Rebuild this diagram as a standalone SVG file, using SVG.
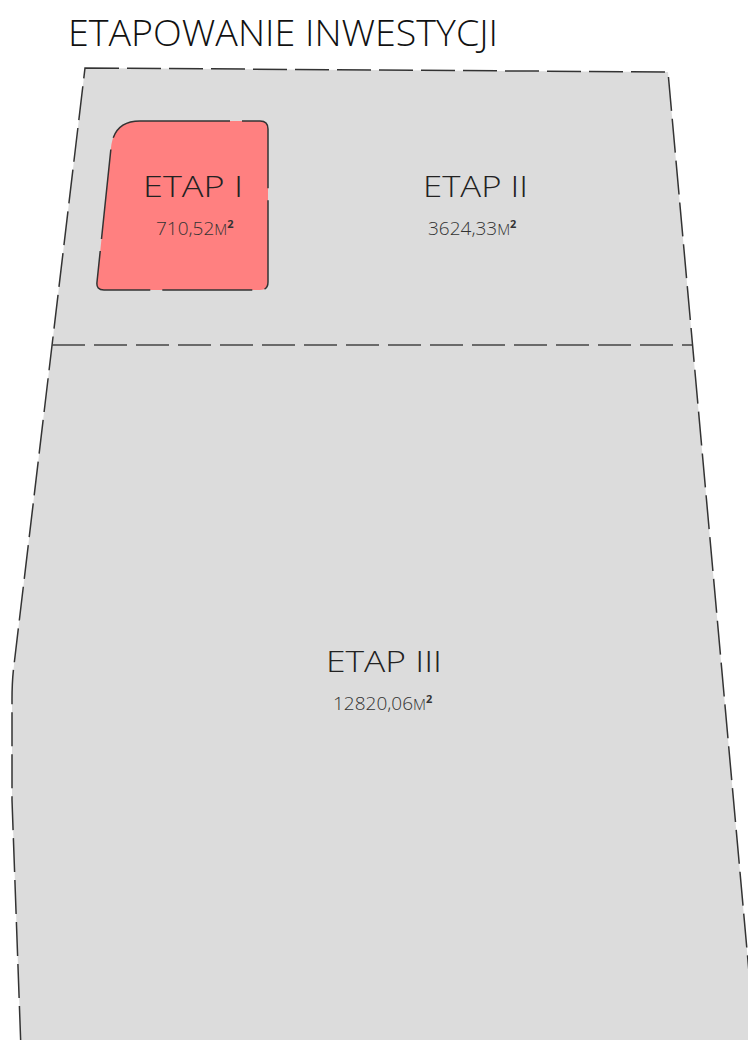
<svg xmlns="http://www.w3.org/2000/svg" width="748" height="1040" viewBox="0 0 748 1040">
<style>
.bg{fill:#ffffff}
.site{fill:#dcdcdc;stroke:#333;stroke-width:1.5;stroke-dasharray:34 8}
.div{fill:none;stroke:#444;stroke-width:1.5;stroke-dasharray:33 9}
.etap1{fill:#ff8080;stroke:#333;stroke-width:1.5;stroke-dasharray:90 12}
.title{font-family:"Open Sans","DejaVu Sans",sans-serif;font-weight:300;font-size:36px;fill:#111}
.lbl{font-family:"Open Sans","DejaVu Sans",sans-serif;font-weight:300;font-size:30px;fill:#222}
.area{font-family:"Open Sans","DejaVu Sans",sans-serif;font-weight:300;font-size:19px;fill:#333}
.m{font-size:15px}
.sq{font-size:11px;font-weight:700}
</style>
<rect class="bg" x="0" y="0" width="748" height="1040"/>
<text class="title" x="68" y="46" textLength="430" lengthAdjust="spacingAndGlyphs">ETAPOWANIE INWESTYCJI</text>
<g id="site">
<path class="site" d="M85,68 L668,72 L756,1050 L21,1050 L12,800 L12,700 Q12,680 14,665 Z"/>
</g>
<g id="connectors">
<line class="div" x1="52" y1="345" x2="692" y2="345"/>
</g>
<g id="etap1">
<path class="etap1" d="M140,121 L260,121 Q268,121 268,129 L268,282 Q268,290 260,290 L104,290 Q96,290 97,282 L111,148 C113,130 122,121 140,121 Z"/>
<text class="lbl" x="143" y="197" textLength="100" lengthAdjust="spacingAndGlyphs">ETAP I</text>
<text class="area" x="156" y="235">710,52<tspan class="m">M</tspan><tspan class="sq" dy="-7">2</tspan></text>
</g>
<g id="etap2">
<text class="lbl" x="423" y="197" textLength="105" lengthAdjust="spacingAndGlyphs">ETAP II</text>
<text class="area" x="428" y="235">3624,33<tspan class="m">M</tspan><tspan class="sq" dy="-7">2</tspan></text>
</g>
<g id="etap3">
<text class="lbl" x="326" y="672" textLength="116" lengthAdjust="spacingAndGlyphs">ETAP III</text>
<text class="area" x="333" y="710">12820,06<tspan class="m">M</tspan><tspan class="sq" dy="-7">2</tspan></text>
</g>
</svg>
